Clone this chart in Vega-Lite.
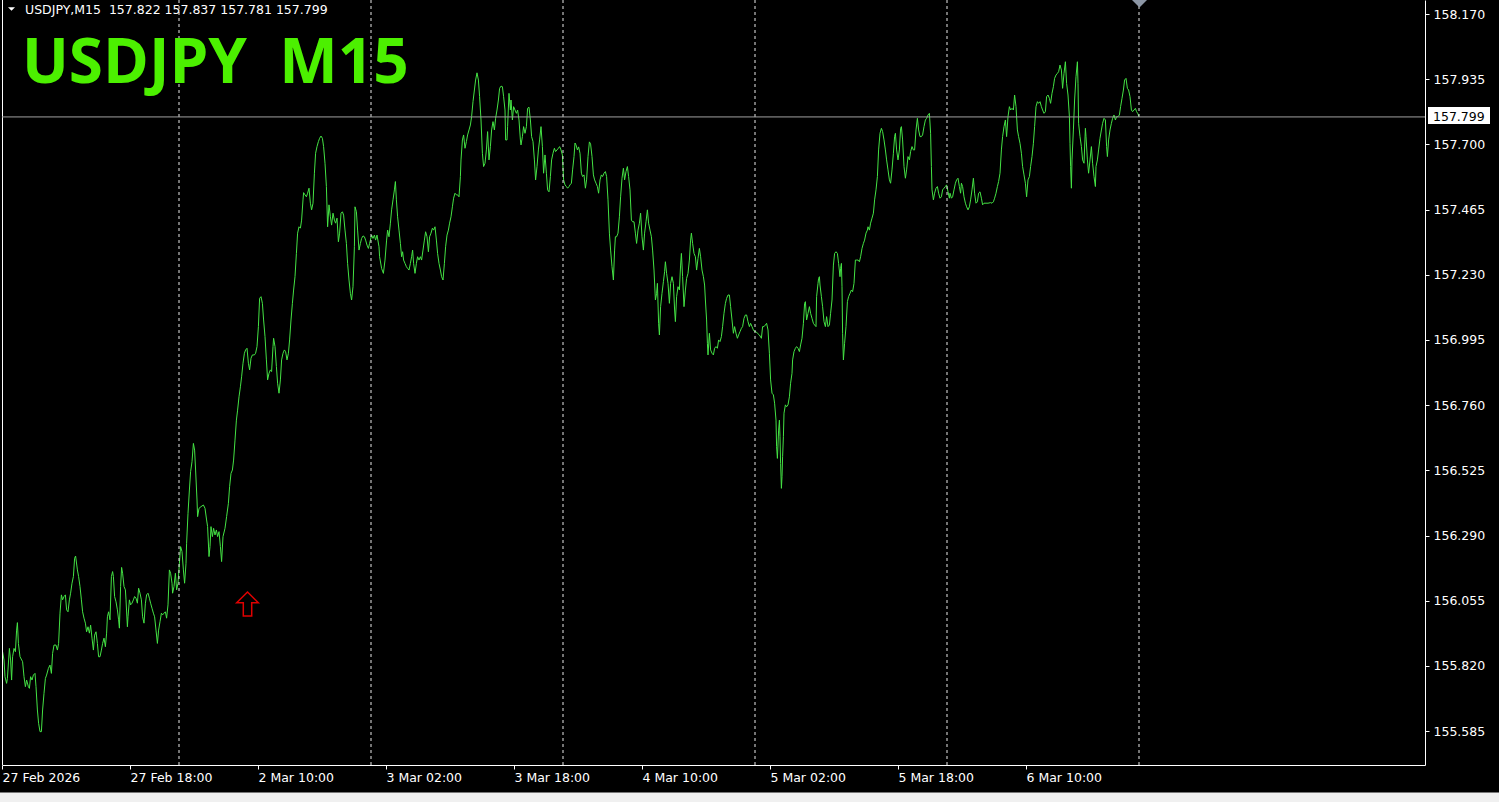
{
"$schema":"https://vega.github.io/schema/vega-lite/v6.json",
"width":1423,"height":765,
"autosize":{"type":"none"},
"padding":{"left":2,"top":0,"right":74,"bottom":37},
"background":"#000000",
"config":{"view":{"stroke":null},"font":"DejaVu Sans","axis":{"grid":false}},
"data":{"values":[{}]},
"datasets":{
"sep":[{"t":88.5},{"t":184.5},{"t":280.5},{"t":376.5},{"t":472.5},{"t":568.5}],
"price":[
{"t":0.3,"p":155.871},{"t":1.0,"p":155.841},{"t":1.5,"p":155.781},{"t":2.3,"p":155.757},{"t":2.7,"p":155.775},{"t":3.7,"p":155.883},{"t":4.3,"p":155.841},{"t":4.8,"p":155.769},{"t":5.3,"p":155.853},{"t":6.0,"p":155.883},{"t":6.7,"p":155.871},{"t":7.3,"p":155.949},{"t":7.7,"p":155.976},{"t":8.2,"p":155.901},{"t":9.0,"p":155.853},{"t":10.3,"p":155.835},{"t":11.0,"p":155.781},{"t":11.7,"p":155.745},{"t":12.3,"p":155.769},{"t":13.2,"p":155.745},{"t":13.7,"p":155.739},{"t":14.3,"p":155.781},{"t":15.0,"p":155.769},{"t":15.7,"p":155.787},{"t":16.5,"p":155.793},{"t":17.0,"p":155.745},{"t":17.7,"p":155.661},{"t":18.3,"p":155.613},{"t":19.0,"p":155.583},{"t":19.7,"p":155.583},{"t":20.3,"p":155.661},{"t":21.0,"p":155.721},{"t":21.7,"p":155.775},{"t":22.3,"p":155.787},{"t":23.2,"p":155.811},{"t":24.0,"p":155.823},{"t":24.7,"p":155.793},{"t":25.3,"p":155.865},{"t":26.0,"p":155.895},{"t":27.0,"p":155.895},{"t":27.7,"p":155.877},{"t":28.3,"p":155.901},{"t":29.0,"p":156.010},{"t":29.7,"p":156.076},{"t":30.3,"p":156.058},{"t":31.0,"p":156.070},{"t":31.7,"p":156.076},{"t":32.3,"p":156.022},{"t":33.0,"p":156.015},{"t":33.7,"p":156.058},{"t":34.3,"p":156.082},{"t":35.0,"p":156.118},{"t":35.7,"p":156.142},{"t":36.3,"p":156.208},{"t":36.8,"p":156.216},{"t":37.7,"p":156.166},{"t":38.3,"p":156.142},{"t":39.0,"p":156.106},{"t":39.7,"p":156.058},{"t":40.3,"p":156.015},{"t":41.0,"p":155.992},{"t":41.7,"p":155.974},{"t":42.3,"p":155.943},{"t":43.0,"p":155.961},{"t":43.7,"p":155.938},{"t":44.3,"p":155.967},{"t":45.0,"p":155.920},{"t":45.7,"p":155.877},{"t":46.3,"p":155.931},{"t":47.0,"p":155.943},{"t":47.7,"p":155.901},{"t":48.3,"p":155.853},{"t":49.0,"p":155.853},{"t":49.7,"p":155.877},{"t":50.3,"p":155.901},{"t":51.0,"p":155.920},{"t":51.7,"p":155.889},{"t":52.3,"p":155.938},{"t":52.7,"p":155.997},{"t":53.3,"p":156.015},{"t":54.0,"p":155.986},{"t":54.7,"p":156.142},{"t":55.3,"p":156.160},{"t":55.7,"p":156.142},{"t":56.3,"p":156.070},{"t":57.0,"p":156.051},{"t":57.7,"p":156.022},{"t":58.3,"p":155.986},{"t":58.7,"p":155.956},{"t":59.3,"p":156.106},{"t":59.8,"p":156.175},{"t":60.3,"p":156.154},{"t":61.0,"p":156.106},{"t":61.7,"p":156.094},{"t":62.0,"p":156.058},{"t":62.7,"p":155.961},{"t":63.0,"p":155.997},{"t":63.7,"p":156.058},{"t":64.3,"p":156.040},{"t":65.0,"p":156.046},{"t":65.7,"p":156.058},{"t":66.3,"p":156.070},{"t":67.0,"p":156.064},{"t":67.7,"p":156.046},{"t":68.3,"p":156.100},{"t":69.0,"p":156.082},{"t":69.7,"p":156.058},{"t":70.3,"p":155.997},{"t":71.0,"p":155.974},{"t":71.7,"p":156.046},{"t":72.3,"p":156.076},{"t":73.0,"p":156.082},{"t":73.7,"p":156.064},{"t":74.3,"p":156.046},{"t":75.0,"p":156.028},{"t":75.7,"p":156.010},{"t":76.3,"p":155.997},{"t":77.0,"p":155.949},{"t":77.7,"p":155.901},{"t":78.3,"p":155.949},{"t":79.0,"p":155.979},{"t":79.7,"p":156.010},{"t":80.3,"p":156.004},{"t":81.0,"p":156.010},{"t":81.7,"p":156.015},{"t":82.3,"p":155.992},{"t":83.0,"p":156.040},{"t":83.7,"p":156.166},{"t":84.3,"p":156.154},{"t":85.0,"p":156.118},{"t":85.3,"p":156.082},{"t":86.0,"p":156.106},{"t":86.7,"p":156.154},{"t":87.3,"p":156.094},{"t":88.0,"p":156.118},{"t":88.7,"p":156.190},{"t":89.3,"p":156.250},{"t":90.0,"p":156.232},{"t":90.7,"p":156.166},{"t":91.3,"p":156.118},{"t":92.0,"p":156.190},{"t":92.3,"p":156.262},{"t":93.0,"p":156.370},{"t":93.7,"p":156.454},{"t":94.3,"p":156.520},{"t":95.0,"p":156.556},{"t":95.7,"p":156.622},{"t":96.3,"p":156.598},
{"t":96.8,"p":156.526},{"t":97.5,"p":156.418},{"t":97.8,"p":156.358},{"t":98.5,"p":156.388},{"t":99.5,"p":156.394},{"t":100.7,"p":156.400},{"t":101.5,"p":156.388},{"t":102.3,"p":156.346},{"t":102.8,"p":156.322},{"t":103.5,"p":156.214},{"t":104.0,"p":156.250},{"t":104.5,"p":156.322},{"t":105.2,"p":156.286},{"t":105.8,"p":156.316},{"t":106.5,"p":156.292},{"t":107.2,"p":156.310},{"t":107.8,"p":156.286},{"t":108.5,"p":156.304},{"t":109.2,"p":156.250},{"t":109.8,"p":156.196},{"t":110.5,"p":156.286},{"t":111.5,"p":156.316},{"t":112.3,"p":156.358},{"t":113.2,"p":156.406},{"t":113.8,"p":156.466},{"t":114.5,"p":156.514},{"t":115.2,"p":156.526},{"t":115.8,"p":156.562},{"t":116.5,"p":156.634},{"t":117.2,"p":156.706},{"t":117.8,"p":156.742},{"t":118.5,"p":156.790},{"t":119.2,"p":156.826},{"t":119.8,"p":156.862},{"t":120.5,"p":156.911},{"t":121.2,"p":156.947},{"t":121.8,"p":156.959},{"t":122.5,"p":156.965},{"t":123.2,"p":156.911},{"t":123.8,"p":156.887},{"t":124.5,"p":156.929},{"t":125.2,"p":156.941},{"t":126.2,"p":156.941},{"t":126.8,"p":156.947},{"t":127.5,"p":156.971},{"t":128.2,"p":157.043},{"t":128.8,"p":157.145},{"t":129.5,"p":157.151},{"t":130.2,"p":157.127},{"t":130.8,"p":157.067},{"t":131.5,"p":157.007},{"t":132.2,"p":156.923},{"t":132.8,"p":156.851},{"t":133.5,"p":156.875},{"t":134.2,"p":156.887},{"t":134.8,"p":156.881},{"t":135.5,"p":156.971},{"t":135.8,"p":157.001},{"t":136.5,"p":156.971},{"t":137.2,"p":156.899},{"t":137.8,"p":156.839},{"t":138.5,"p":156.803},{"t":139.2,"p":156.851},{"t":139.8,"p":156.923},{"t":140.5,"p":156.947},{"t":141.2,"p":156.959},{"t":141.8,"p":156.953},{"t":142.5,"p":156.923},{"t":143.2,"p":156.947},{"t":143.8,"p":156.995},{"t":144.5,"p":157.067},{"t":145.2,"p":157.127},{"t":145.8,"p":157.175},{"t":146.5,"p":157.223},{"t":147.2,"p":157.307},{"t":147.8,"p":157.380},{"t":148.5,"p":157.403},{"t":149.2,"p":157.398},{"t":149.8,"p":157.427},{"t":150.5,"p":157.500},{"t":150.8,"p":157.526},{"t":151.5,"p":157.518},{"t":152.2,"p":157.511},{"t":152.8,"p":157.524},{"t":153.5,"p":157.542},{"t":154.2,"p":157.488},{"t":154.8,"p":157.464},{"t":155.5,"p":157.488},{"t":156.2,"p":157.596},{"t":156.8,"p":157.668},{"t":157.5,"p":157.692},{"t":158.2,"p":157.710},{"t":158.8,"p":157.722},{"t":159.5,"p":157.730},{"t":160.2,"p":157.722},{"t":160.8,"p":157.692},{"t":161.5,"p":157.632},{"t":162.2,"p":157.548},{"t":162.8,"p":157.403},{"t":163.5,"p":157.482},{"t":164.2,"p":157.439},{"t":164.8,"p":157.409},{"t":165.5,"p":157.452},{"t":166.2,"p":157.427},{"t":166.8,"p":157.416},{"t":167.5,"p":157.434},{"t":168.2,"p":157.349},{"t":168.8,"p":157.380},{"t":169.5,"p":157.452},{"t":170.2,"p":157.457},{"t":170.8,"p":157.445},{"t":171.5,"p":157.391},{"t":172.2,"p":157.343},{"t":172.8,"p":157.271},{"t":173.5,"p":157.211},{"t":174.2,"p":157.163},{"t":174.8,"p":157.139},{"t":175.5,"p":157.187},{"t":176.2,"p":157.331},{"t":176.5,"p":157.475},{"t":177.2,"p":157.457},{"t":177.8,"p":157.391},{"t":178.5,"p":157.319},{"t":179.2,"p":157.343},{"t":179.8,"p":157.361},{"t":180.5,"p":157.370},{"t":181.2,"p":157.367},{"t":181.8,"p":157.355},{"t":182.5,"p":157.337},{"t":183.2,"p":157.325},{"t":183.8,"p":157.343},{"t":184.8,"p":157.373},{"t":185.5,"p":157.361},{"t":186.2,"p":157.373},{"t":186.8,"p":157.355},{"t":187.5,"p":157.373},{"t":188.5,"p":157.331},
{"t":188.8,"p":157.295},{"t":189.8,"p":157.253},{"t":190.7,"p":157.235},{"t":191.5,"p":157.283},{"t":192.3,"p":157.355},{"t":192.8,"p":157.391},{"t":193.5,"p":157.367},{"t":194.2,"p":157.416},{"t":194.8,"p":157.464},{"t":195.5,"p":157.500},{"t":196.2,"p":157.536},{"t":196.7,"p":157.566},{"t":197.2,"p":157.500},{"t":197.8,"p":157.439},{"t":198.5,"p":157.391},{"t":199.2,"p":157.343},{"t":199.8,"p":157.295},{"t":200.3,"p":157.313},{"t":200.8,"p":157.283},{"t":201.5,"p":157.271},{"t":202.2,"p":157.259},{"t":202.8,"p":157.253},{"t":203.5,"p":157.247},{"t":204.2,"p":157.271},{"t":204.8,"p":157.295},{"t":205.3,"p":157.319},{"t":205.8,"p":157.271},{"t":206.5,"p":157.235},{"t":207.2,"p":157.271},{"t":207.8,"p":157.295},{"t":208.5,"p":157.283},{"t":209.2,"p":157.295},{"t":209.8,"p":157.283},{"t":210.5,"p":157.319},{"t":211.2,"p":157.355},{"t":211.8,"p":157.385},{"t":212.5,"p":157.367},{"t":213.2,"p":157.313},{"t":213.8,"p":157.367},{"t":214.5,"p":157.380},{"t":215.2,"p":157.398},{"t":215.8,"p":157.391},{"t":216.5,"p":157.403},{"t":217.2,"p":157.355},{"t":217.8,"p":157.307},{"t":218.5,"p":157.271},{"t":219.2,"p":157.247},{"t":219.8,"p":157.223},{"t":220.5,"p":157.211},{"t":221.2,"p":157.271},{"t":221.8,"p":157.331},{"t":222.5,"p":157.373},{"t":223.2,"p":157.391},{"t":223.8,"p":157.416},{"t":224.5,"p":157.439},{"t":225.2,"p":157.475},{"t":225.8,"p":157.506},{"t":226.5,"p":157.524},{"t":227.2,"p":157.518},{"t":227.8,"p":157.518},{"t":228.5,"p":157.511},{"t":229.2,"p":157.584},{"t":229.5,"p":157.644},{"t":230.2,"p":157.716},{"t":230.8,"p":157.734},{"t":231.5,"p":157.686},{"t":232.2,"p":157.710},{"t":232.8,"p":157.734},{"t":233.5,"p":157.752},{"t":234.2,"p":157.770},{"t":234.8,"p":157.800},{"t":235.5,"p":157.854},{"t":236.2,"p":157.896},{"t":236.8,"p":157.932},{"t":237.5,"p":157.958},{"t":238.2,"p":157.932},{"t":238.8,"p":157.872},{"t":239.5,"p":157.788},{"t":240.2,"p":157.668},{"t":240.8,"p":157.620},{"t":241.5,"p":157.632},{"t":242.2,"p":157.680},{"t":242.8,"p":157.746},{"t":243.5,"p":157.644},{"t":244.2,"p":157.692},{"t":244.8,"p":157.752},{"t":245.5,"p":157.782},{"t":246.2,"p":157.752},{"t":246.8,"p":157.794},{"t":247.5,"p":157.824},{"t":248.2,"p":157.860},{"t":248.8,"p":157.902},{"t":249.5,"p":157.910},{"t":250.2,"p":157.908},{"t":250.8,"p":157.872},{"t":251.5,"p":157.824},{"t":251.8,"p":157.716},{"t":252.5,"p":157.716},{"t":252.8,"p":157.764},{"t":253.5,"p":157.884},{"t":254.2,"p":157.824},{"t":254.5,"p":157.860},{"t":255.2,"p":157.788},{"t":255.8,"p":157.836},{"t":256.5,"p":157.824},{"t":257.2,"p":157.812},{"t":257.8,"p":157.824},{"t":258.5,"p":157.788},{"t":259.2,"p":157.716},{"t":259.5,"p":157.698},{"t":260.2,"p":157.728},{"t":260.8,"p":157.764},{"t":261.5,"p":157.740},{"t":262.2,"p":157.764},{"t":262.8,"p":157.830},{"t":263.5,"p":157.834},{"t":264.2,"p":157.788},{"t":264.8,"p":157.728},{"t":265.5,"p":157.710},{"t":266.2,"p":157.644},{"t":266.8,"p":157.572},{"t":267.5,"p":157.620},{"t":268.2,"p":157.680},{"t":268.8,"p":157.716},{"t":269.5,"p":157.764},{"t":270.2,"p":157.692},{"t":270.8,"p":157.596},{"t":271.5,"p":157.662},{"t":272.2,"p":157.596},{"t":272.8,"p":157.536},{"t":273.5,"p":157.529},{"t":274.2,"p":157.584},{"t":274.8,"p":157.644},{"t":275.5,"p":157.668},{"t":276.2,"p":157.686},{"t":276.8,"p":157.674},{"t":277.5,"p":157.680},{"t":278.2,"p":157.686},{"t":278.8,"p":157.692},{"t":279.5,"p":157.680},{"t":280.2,"p":157.662},{"t":280.8,"p":157.572},{"t":281.5,"p":157.554},{"t":282.2,"p":157.548},{"t":282.8,"p":157.542},{"t":283.5,"p":157.548},
{"t":284.0,"p":157.554},{"t":284.7,"p":157.560},{"t":285.3,"p":157.608},{"t":286.0,"p":157.656},{"t":286.5,"p":157.705},{"t":287.0,"p":157.698},{"t":287.7,"p":157.680},{"t":288.3,"p":157.691},{"t":289.0,"p":157.668},{"t":289.7,"p":157.596},{"t":290.3,"p":157.584},{"t":291.0,"p":157.590},{"t":291.7,"p":157.542},{"t":292.3,"p":157.572},{"t":293.0,"p":157.656},{"t":293.7,"p":157.709},{"t":294.3,"p":157.701},{"t":295.0,"p":157.656},{"t":295.7,"p":157.590},{"t":296.3,"p":157.572},{"t":297.0,"p":157.560},{"t":297.7,"p":157.548},{"t":298.3,"p":157.524},{"t":299.0,"p":157.572},{"t":299.7,"p":157.590},{"t":300.3,"p":157.584},{"t":301.0,"p":157.596},{"t":301.7,"p":157.602},{"t":302.3,"p":157.584},{"t":303.0,"p":157.500},{"t":303.7,"p":157.380},{"t":304.3,"p":157.319},{"t":305.0,"p":157.259},{"t":305.7,"p":157.211},{"t":306.3,"p":157.319},{"t":306.7,"p":157.367},{"t":307.3,"p":157.367},{"t":308.0,"p":157.380},{"t":308.7,"p":157.439},{"t":309.3,"p":157.511},{"t":310.0,"p":157.578},{"t":310.7,"p":157.614},{"t":311.3,"p":157.572},{"t":312.0,"p":157.602},{"t":312.7,"p":157.620},{"t":313.3,"p":157.584},{"t":314.0,"p":157.536},{"t":314.7,"p":157.427},{"t":315.3,"p":157.421},{"t":316.0,"p":157.421},{"t":316.7,"p":157.380},{"t":317.3,"p":157.343},{"t":318.0,"p":157.391},{"t":318.7,"p":157.416},{"t":319.3,"p":157.452},{"t":320.0,"p":157.367},{"t":320.7,"p":157.319},{"t":321.3,"p":157.380},{"t":322.0,"p":157.421},{"t":322.7,"p":157.464},{"t":323.3,"p":157.416},{"t":324.0,"p":157.391},{"t":324.7,"p":157.367},{"t":325.3,"p":157.319},{"t":326.0,"p":157.247},{"t":326.7,"p":157.139},{"t":327.3,"p":157.163},{"t":327.7,"p":157.199},{"t":328.3,"p":157.055},{"t":328.7,"p":157.013},{"t":329.3,"p":157.115},{"t":330.0,"p":157.163},{"t":330.7,"p":157.205},{"t":331.3,"p":157.241},{"t":331.7,"p":157.277},{"t":332.3,"p":157.235},{"t":333.0,"p":157.199},{"t":333.7,"p":157.127},{"t":334.3,"p":157.199},{"t":335.0,"p":157.223},{"t":335.7,"p":157.199},{"t":336.3,"p":157.103},{"t":336.7,"p":157.061},{"t":337.3,"p":157.151},{"t":338.0,"p":157.187},{"t":338.7,"p":157.175},{"t":339.3,"p":157.265},{"t":339.7,"p":157.307},{"t":340.3,"p":157.223},{"t":341.0,"p":157.115},{"t":341.7,"p":157.175},{"t":342.3,"p":157.217},{"t":343.0,"p":157.235},{"t":343.7,"p":157.283},{"t":344.3,"p":157.355},{"t":344.7,"p":157.380},{"t":345.3,"p":157.343},{"t":346.0,"p":157.307},{"t":346.7,"p":157.295},{"t":347.3,"p":157.247},{"t":348.0,"p":157.289},{"t":348.7,"p":157.325},{"t":349.3,"p":157.295},{"t":350.0,"p":157.247},{"t":350.7,"p":157.223},{"t":351.3,"p":157.193},{"t":351.7,"p":157.139},{"t":352.3,"p":157.067},{"t":352.7,"p":156.983},{"t":353.0,"p":156.941},{"t":353.7,"p":157.019},{"t":354.3,"p":156.959},{"t":355.0,"p":156.947},{"t":355.7,"p":156.941},{"t":356.3,"p":156.965},{"t":357.0,"p":156.971},{"t":357.7,"p":156.965},{"t":358.3,"p":156.995},{"t":359.0,"p":156.989},{"t":359.7,"p":157.007},{"t":360.3,"p":157.043},{"t":361.0,"p":157.091},{"t":361.7,"p":157.127},{"t":362.3,"p":157.145},{"t":363.0,"p":157.157},{"t":363.7,"p":157.157},{"t":364.3,"p":157.115},{"t":365.0,"p":157.067},{"t":365.7,"p":157.019},{"t":366.3,"p":157.043},{"t":367.0,"p":157.019},{"t":367.7,"p":157.001},{"t":368.3,"p":157.013},{"t":369.0,"p":157.025},{"t":369.7,"p":157.037},{"t":370.3,"p":157.043},{"t":371.0,"p":157.073},{"t":371.7,"p":157.085},{"t":372.3,"p":157.085},{"t":373.0,"p":157.061},{"t":373.7,"p":157.043},{"t":374.3,"p":157.055},{"t":375.0,"p":157.043},{"t":375.7,"p":157.031},{"t":376.3,"p":157.025},{"t":377.0,"p":157.025},{"t":377.7,"p":157.019},{"t":378.7,"p":157.013},
{"t":379.7,"p":157.001},{"t":380.3,"p":157.043},{"t":381.0,"p":157.043},{"t":381.7,"p":157.049},{"t":382.3,"p":157.055},{"t":383.0,"p":157.031},{"t":383.7,"p":156.947},{"t":384.3,"p":156.851},{"t":385.0,"p":156.803},{"t":385.7,"p":156.797},{"t":386.3,"p":156.767},{"t":387.0,"p":156.706},{"t":387.3,"p":156.610},{"t":387.7,"p":156.568},{"t":388.3,"p":156.670},{"t":388.7,"p":156.706},{"t":389.0,"p":156.646},{"t":389.3,"p":156.550},{"t":389.7,"p":156.460},{"t":390.0,"p":156.502},{"t":390.3,"p":156.574},{"t":390.7,"p":156.646},{"t":391.0,"p":156.731},{"t":391.7,"p":156.761},{"t":392.3,"p":156.754},{"t":393.0,"p":156.761},{"t":393.7,"p":156.790},{"t":394.3,"p":156.839},{"t":395.0,"p":156.875},{"t":395.3,"p":156.923},{"t":396.0,"p":156.953},{"t":396.7,"p":156.965},{"t":397.3,"p":156.971},{"t":398.0,"p":156.965},{"t":398.7,"p":156.953},{"t":399.3,"p":156.977},{"t":400.0,"p":157.001},{"t":400.7,"p":157.055},{"t":401.3,"p":157.127},{"t":401.7,"p":157.133},{"t":402.3,"p":157.067},{"t":403.0,"p":157.091},{"t":403.7,"p":157.115},{"t":404.3,"p":157.091},{"t":405.0,"p":157.073},{"t":405.7,"p":157.055},{"t":406.3,"p":157.049},{"t":407.0,"p":157.043},{"t":407.3,"p":157.151},{"t":408.0,"p":157.199},{"t":408.3,"p":157.217},{"t":408.7,"p":157.223},{"t":409.0,"p":157.193},{"t":409.7,"p":157.151},{"t":410.3,"p":157.115},{"t":411.0,"p":157.061},{"t":411.7,"p":157.043},{"t":412.3,"p":157.079},{"t":413.0,"p":157.043},{"t":413.7,"p":157.049},{"t":414.3,"p":157.091},{"t":415.0,"p":157.139},{"t":415.7,"p":157.265},{"t":416.3,"p":157.307},{"t":417.0,"p":157.313},{"t":417.7,"p":157.307},{"t":418.3,"p":157.271},{"t":419.0,"p":157.223},{"t":419.3,"p":157.253},{"t":419.7,"p":157.271},{"t":420.0,"p":157.187},{"t":420.3,"p":157.019},{"t":420.7,"p":156.923},{"t":421.3,"p":156.983},{"t":422.0,"p":157.043},{"t":422.7,"p":157.133},{"t":423.3,"p":157.151},{"t":424.0,"p":157.163},{"t":424.7,"p":157.175},{"t":425.3,"p":157.169},{"t":426.0,"p":157.199},{"t":426.7,"p":157.283},{"t":427.3,"p":157.283},{"t":428.0,"p":157.283},{"t":428.7,"p":157.277},{"t":429.3,"p":157.295},{"t":430.0,"p":157.325},{"t":430.7,"p":157.343},{"t":431.3,"p":157.355},{"t":432.0,"p":157.380},{"t":432.7,"p":157.391},{"t":433.0,"p":157.403},{"t":433.7,"p":157.391},{"t":434.3,"p":157.416},{"t":435.0,"p":157.434},{"t":435.7,"p":157.452},{"t":436.3,"p":157.500},{"t":437.0,"p":157.536},{"t":437.7,"p":157.584},{"t":438.3,"p":157.680},{"t":439.0,"p":157.740},{"t":439.7,"p":157.758},{"t":440.3,"p":157.746},{"t":441.0,"p":157.716},{"t":441.7,"p":157.680},{"t":442.3,"p":157.644},{"t":443.0,"p":157.608},{"t":443.7,"p":157.572},{"t":444.3,"p":157.560},{"t":445.0,"p":157.608},{"t":445.7,"p":157.668},{"t":446.3,"p":157.728},{"t":446.7,"p":157.740},{"t":447.3,"p":157.680},{"t":448.0,"p":157.644},{"t":448.7,"p":157.680},{"t":449.3,"p":157.758},{"t":449.7,"p":157.764},{"t":450.3,"p":157.716},{"t":451.0,"p":157.620},{"t":451.7,"p":157.578},{"t":452.3,"p":157.608},{"t":453.0,"p":157.656},{"t":453.7,"p":157.644},{"t":454.3,"p":157.674},{"t":455.0,"p":157.692},{"t":455.7,"p":157.680},{"t":456.3,"p":157.680},{"t":457.0,"p":157.752},{"t":457.7,"p":157.794},{"t":458.3,"p":157.752},{"t":459.0,"p":157.728},{"t":459.7,"p":157.728},{"t":460.3,"p":157.734},{"t":461.0,"p":157.764},{"t":461.7,"p":157.788},{"t":462.3,"p":157.794},{"t":463.0,"p":157.806},{"t":463.7,"p":157.812},{"t":464.3,"p":157.740},{"t":464.7,"p":157.620},{"t":465.0,"p":157.536},{"t":465.7,"p":157.500},{"t":466.3,"p":157.524},{"t":467.0,"p":157.542},{"t":467.7,"p":157.548},{"t":468.3,"p":157.524},{"t":469.0,"p":157.506},{"t":469.7,"p":157.511},{"t":470.3,"p":157.536},{"t":471.0,"p":157.542},{"t":471.7,"p":157.548},{"t":472.3,"p":157.554},{"t":473.0,"p":157.529},{"t":473.7,"p":157.506},
{"t":474.0,"p":157.524},{"t":474.7,"p":157.506},{"t":475.3,"p":157.511},{"t":476.0,"p":157.536},{"t":476.7,"p":157.560},{"t":477.3,"p":157.572},{"t":478.0,"p":157.578},{"t":478.7,"p":157.548},{"t":479.3,"p":157.524},{"t":479.7,"p":157.560},{"t":480.3,"p":157.548},{"t":481.0,"p":157.511},{"t":481.7,"p":157.488},{"t":482.3,"p":157.475},{"t":483.0,"p":157.464},{"t":483.7,"p":157.475},{"t":484.3,"p":157.500},{"t":485.0,"p":157.536},{"t":485.7,"p":157.578},{"t":486.3,"p":157.524},{"t":487.0,"p":157.488},{"t":487.7,"p":157.493},{"t":488.3,"p":157.524},{"t":489.0,"p":157.529},{"t":489.7,"p":157.506},{"t":490.3,"p":157.482},{"t":491.0,"p":157.488},{"t":492.0,"p":157.488},{"t":493.0,"p":157.488},{"t":494.3,"p":157.490},{"t":495.0,"p":157.488},{"t":495.7,"p":157.493},{"t":496.3,"p":157.506},{"t":497.0,"p":157.524},{"t":497.7,"p":157.548},{"t":498.3,"p":157.566},{"t":499.0,"p":157.596},{"t":499.7,"p":157.680},{"t":500.3,"p":157.728},{"t":501.0,"p":157.764},{"t":501.7,"p":157.788},{"t":502.3,"p":157.728},{"t":503.0,"p":157.800},{"t":503.7,"p":157.836},{"t":504.3,"p":157.824},{"t":505.0,"p":157.830},{"t":505.7,"p":157.824},{"t":506.3,"p":157.878},{"t":507.0,"p":157.836},{"t":507.7,"p":157.752},{"t":508.3,"p":157.728},{"t":509.0,"p":157.704},{"t":509.7,"p":157.668},{"t":510.3,"p":157.620},{"t":511.0,"p":157.590},{"t":511.7,"p":157.560},{"t":512.3,"p":157.511},{"t":513.0,"p":157.572},{"t":513.7,"p":157.584},{"t":514.3,"p":157.620},{"t":515.0,"p":157.656},{"t":515.7,"p":157.704},{"t":516.3,"p":157.764},{"t":517.0,"p":157.836},{"t":517.7,"p":157.854},{"t":518.3,"p":157.848},{"t":519.0,"p":157.854},{"t":519.7,"p":157.836},{"t":520.3,"p":157.824},{"t":521.0,"p":157.812},{"t":521.7,"p":157.818},{"t":522.3,"p":157.872},{"t":523.0,"p":157.878},{"t":523.7,"p":157.866},{"t":524.3,"p":157.848},{"t":525.0,"p":157.884},{"t":525.7,"p":157.908},{"t":526.3,"p":157.938},{"t":527.0,"p":157.950},{"t":527.7,"p":157.956},{"t":528.3,"p":157.962},{"t":529.0,"p":157.986},{"t":529.7,"p":157.968},{"t":530.3,"p":157.902},{"t":531.0,"p":157.956},{"t":531.7,"p":157.998},{"t":532.3,"p":157.920},{"t":533.0,"p":157.878},{"t":533.7,"p":157.800},{"t":534.0,"p":157.704},{"t":534.3,"p":157.620},{"t":534.7,"p":157.542},{"t":535.0,"p":157.644},{"t":535.7,"p":157.752},{"t":536.3,"p":157.860},{"t":537.0,"p":157.944},{"t":537.7,"p":157.998},{"t":538.0,"p":157.920},{"t":538.3,"p":157.776},{"t":539.0,"p":157.728},{"t":539.7,"p":157.692},{"t":540.3,"p":157.644},{"t":541.0,"p":157.632},{"t":541.7,"p":157.758},{"t":542.0,"p":157.728},{"t":542.7,"p":157.644},{"t":543.3,"p":157.596},{"t":544.0,"p":157.644},{"t":544.7,"p":157.692},{"t":545.3,"p":157.632},{"t":546.0,"p":157.584},{"t":546.7,"p":157.548},{"t":547.0,"p":157.620},{"t":547.7,"p":157.644},{"t":548.3,"p":157.680},{"t":549.0,"p":157.722},{"t":549.7,"p":157.752},{"t":550.3,"p":157.776},{"t":551.0,"p":157.794},{"t":551.7,"p":157.788},{"t":552.3,"p":157.692},{"t":552.7,"p":157.656},{"t":553.3,"p":157.716},{"t":554.0,"p":157.752},{"t":554.7,"p":157.776},{"t":555.3,"p":157.794},{"t":556.0,"p":157.806},{"t":556.7,"p":157.788},{"t":557.3,"p":157.800},{"t":558.0,"p":157.800},{"t":558.7,"p":157.806},{"t":559.3,"p":157.836},{"t":560.0,"p":157.866},{"t":560.7,"p":157.896},{"t":561.3,"p":157.932},{"t":562.0,"p":157.938},{"t":562.7,"p":157.902},{"t":563.3,"p":157.896},{"t":564.0,"p":157.872},{"t":564.7,"p":157.824},{"t":565.3,"p":157.818},{"t":566.0,"p":157.824},{"t":566.7,"p":157.830},{"t":567.3,"p":157.818},{"t":568.0,"p":157.810},{"t":568.5,"p":157.799}
]},
"layer":[
{"data":{"name":"price"},"mark":{"type":"line","color":"#44e244","strokeWidth":1},
 "encoding":{
  "x":{"field":"t","type":"quantitative","scale":{"domain":[0,711.5],"nice":false,"zero":false},
   "axis":{"orient":"bottom","values":[0,64,128,192,256,320,384,448,512],
    "labelExpr":"['27 Feb 2026','27 Feb 18:00','2 Mar 10:00','3 Mar 02:00','3 Mar 18:00','4 Mar 10:00','5 Mar 02:00','5 Mar 18:00','6 Mar 10:00'][round(datum.value/64)]",
    "labelAlign":"left","labelBaseline":"top","labelColor":"#ffffff","labelFont":"DejaVu Sans","labelFontSize":12.5,"labelPadding":2,
    "tickColor":"#ffffff","tickSize":4,"domainColor":"#ffffff","title":null,"grid":false,"labelOverlap":false,"labelFlush":false,"labelBound":false}},
  "y":{"field":"p","type":"quantitative","scale":{"domain":[155.4627,158.2205],"nice":false,"zero":false},
   "axis":{"orient":"right","values":[155.585,155.82,156.055,156.29,156.525,156.76,156.995,157.23,157.465,157.7,157.935,158.17],"format":".3f",
    "labelColor":"#ffffff","labelFont":"DejaVu Sans","labelFontSize":12.5,"labelPadding":4,
    "tickColor":"#ffffff","tickSize":4,"domainColor":"#ffffff","title":null,"grid":false,"labelOverlap":false,"labelFlush":false,"labelBound":false}}}},
{"mark":{"type":"rect","color":"#f0f0f0"},
 "encoding":{"x":{"datum":-1,"type":"quantitative"},"x2":{"datum":748.5},
  "y":{"datum":155.3636,"type":"quantitative"},"y2":{"datum":155.3276}}},
{"mark":{"type":"rule","color":"#ffffff","strokeWidth":1},
 "encoding":{"x":{"datum":0.25,"type":"quantitative"}}},
{"data":{"name":"sep"},"mark":{"type":"rule","color":"#e8e8e8","strokeDash":[3,3],"strokeWidth":1},
 "encoding":{"x":{"field":"t","type":"quantitative"}}},
{"mark":{"type":"rule","color":"#a0a0a0","strokeWidth":1},
 "encoding":{"y":{"datum":157.799,"type":"quantitative"}}},
{"mark":{"type":"point","shape":"M0,-1L0.9,-0.1L0.35,-0.1L0.35,1L-0.35,1L-0.35,-0.1L-0.9,-0.1Z","size":576,"filled":false,"color":"#e00000","strokeWidth":1.5,"opacity":1},
 "encoding":{"x":{"datum":122.75,"type":"quantitative"},"y":{"datum":156.043,"type":"quantitative"}}},
{"mark":{"type":"point","shape":"M-1,-0.5L1,-0.5L0,0.5Z","size":225,"filled":true,"color":"#8c96a5","opacity":1},
 "encoding":{"x":{"datum":568.75,"type":"quantitative"},"y":{"datum":158.207,"type":"quantitative"}}},
{"mark":{"type":"point","shape":"M-1,-0.5L1,-0.5L0,0.5Z","size":49,"filled":true,"color":"#ffffff","opacity":1},
 "encoding":{"x":{"datum":4.75,"type":"quantitative"},"y":{"datum":158.1881,"type":"quantitative"}}},
{"mark":{"type":"text","color":"#ffffff","font":"DejaVu Sans","fontSize":12.5,"align":"left","baseline":"alphabetic"},
 "encoding":{"text":{"datum":"USDJPY,M15\u00a0\u00a0157.822 157.837 157.781 157.799"},"x":{"datum":11.5,"type":"quantitative"},"y":{"datum":158.170,"type":"quantitative"}}},
{"mark":{"type":"text","color":"#4cf000","font":"Open Sans","fontWeight":"bold","fontSize":62,"align":"left","baseline":"alphabetic"},
 "encoding":{"text":{"datum":"USDJPY\u00a0\u00a0M15"},"x":{"datum":10,"type":"quantitative"},"y":{"datum":157.921,"type":"quantitative"}}},
{"mark":{"type":"rect","color":"#ffffff"},
 "encoding":{"x":{"datum":713,"type":"quantitative"},"x2":{"datum":744},"y":{"datum":157.835,"type":"quantitative"},"y2":{"datum":157.7735}}},
{"mark":{"type":"text","color":"#000000","font":"DejaVu Sans","fontSize":12.5,"align":"left","baseline":"middle"},
 "encoding":{"text":{"datum":"157.799"},"x":{"datum":715.5,"type":"quantitative"},"y":{"datum":157.799,"type":"quantitative"}}}
]
}
